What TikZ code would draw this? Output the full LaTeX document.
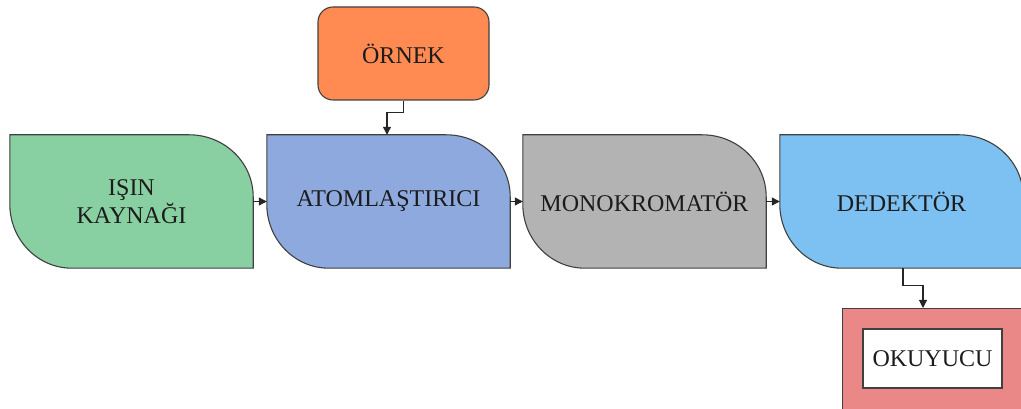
\documentclass[tikz,border=0pt]{standalone}
\usepackage{fontspec}
\setmainfont{Liberation Serif}
\usetikzlibrary{arrows.meta,backgrounds}
\definecolor{cgreen}{RGB}{136,207,161}
\definecolor{cblue}{RGB}{142,169,221}
\definecolor{cgray}{RGB}{179,179,179}
\definecolor{clblue}{RGB}{125,193,242}
\definecolor{corange}{RGB}{255,139,82}
\definecolor{cpink}{RGB}{234,135,135}
\definecolor{cline}{RGB}{64,64,64}
\definecolor{ctext}{RGB}{28,28,28}
\tikzset{
  leafbox/.style={minimum width=243pt, minimum height=133pt, inner sep=0pt, align=center, text=ctext,
    font=\fontsize{24}{28}\selectfont},
  outline/.style={draw=cline, line width=1.1pt},
  conn/.style={draw=black!85, line width=1.1pt, -{Triangle[length=8pt,width=8pt]}},
  lbl/.style={text=ctext, font=\fontsize{24}{28}\selectfont}
}
\newcommand{\leafshape}[2]{%
  \path[outline, fill=#2] (#1.north west) -- ([xshift=-64pt]#1.north east)
    arc[start angle=90, end angle=0, x radius=64pt, y radius=62pt]
    -- (#1.south east) -- ([xshift=62pt]#1.south west)
    arc[start angle=270, end angle=180, x radius=62pt, y radius=64pt] -- cycle;}
\begin{document}
\begin{tikzpicture}[x=1pt,y=1pt]
\useasboundingbox (0,0) rectangle (1021,409);
\clip (0,0) rectangle (1021,409);
\node[leafbox] (isin) at (131.5,207.5) {IŞIN\\KAYNAĞI};
\node[leafbox] (atom) at (388.5,207.5) {ATOMLAŞTIRICI};
\node[leafbox] (mono) at (644.5,207.5) {MONOKROMATÖR};
\node[leafbox] (dedek) at (901.5,207.5) {DEDEKTÖR};
\begin{scope}[on background layer]
  \leafshape{isin}{cgreen}
  \leafshape{atom}{cblue}
  \leafshape{mono}{cgray}
  \leafshape{dedek}{clblue}
\end{scope}
\node[outline, fill=corange, rounded corners=15pt, minimum width=171pt, minimum height=93pt, inner sep=0pt, lbl] (ornek) at (403.5,355.5) {ÖRNEK};
\node[outline, fill=cpink, minimum width=188pt, minimum height=112pt, inner sep=0pt, anchor=north west] (okuy) at (842,101) {};
\node[outline, fill=white, minimum width=139pt, minimum height=59pt, inner sep=0pt, lbl] (okuyin) at (932.5,50.5) {OKUYUCU};
\draw[conn] (isin.east) -- (atom.west);
\draw[conn] (atom.east) -- (mono.west);
\draw[conn] (mono.east) -- (dedek.west);
\draw[conn] (ornek.south) -- ++(0,-12) -| ([xshift=-1.5pt]atom.north);
\draw[conn] ([xshift=1.5pt]dedek.south) -- ++(0,-17) -| ([xshift=81pt]okuy.north west);
\end{tikzpicture}
\end{document}
